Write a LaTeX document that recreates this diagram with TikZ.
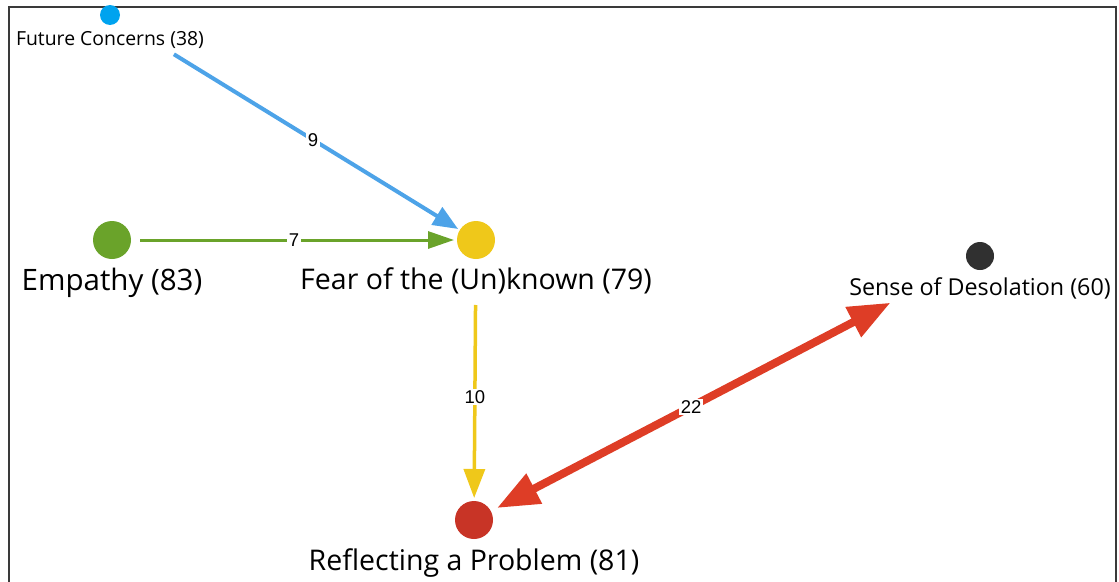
\documentclass[tikz,border=0pt]{standalone}
\usepackage{fontspec}
\setmainfont{Open Sans}
\newfontfamily\wtfont{Liberation Sans}
\usetikzlibrary{arrows.meta,positioning}

\definecolor{fcdot}{HTML}{00A3EF}
\definecolor{fcline}{HTML}{4DA3E8}
\definecolor{empgreen}{HTML}{6AA32A}
\definecolor{fearyellow}{HTML}{EFC81A}
\definecolor{refdot}{HTML}{C83426}
\definecolor{refline}{HTML}{DE3D26}
\definecolor{desdot}{HTML}{303030}
\definecolor{framegray}{HTML}{3A3A3A}

\begin{document}
\begin{tikzpicture}[x=1pt, y=-1pt,
	dot/.style={circle, fill=#1, inner sep=0pt, outer sep=0pt, minimum size=38pt},
	lbl/.style={inner sep=0pt, font=\fontsize{28.5}{32}\selectfont},
	wt/.style={fill=white, inner sep=1.5pt, font=\wtfont\fontsize{18.5}{21}\selectfont},
	edge/.style={draw=#1, line width=3pt}
]
\useasboundingbox (0,0) rectangle (1119,581);
\draw[framegray, line width=2pt] (9,590) -- (9,7) -- (1116,7) -- (1116,590);

% nodes
\node[dot=fcdot, minimum size=20pt] (fc) at (110,15) {};
\node[dot=empgreen] (emp) at (112,240) {};
\node[dot=fearyellow] (fear) at (476,240) {};
\node[dot=desdot, minimum size=28pt] (des) at (980,256) {};
\node[dot=refdot] (ref) at (474,520) {};

\node[lbl, font=\fontsize{19.4}{22}\selectfont, below=6.5pt of fc] (fclbl) {Future Concerns (38)};
\node[lbl, font=\fontsize{29.5}{33}\selectfont, below=9pt of emp] (emplbl) {Empathy (83)};
\node[lbl, below=8.5pt of fear] (fearlbl) {Fear of the (Un)known (79)};
\node[lbl, font=\fontsize{23.3}{26}\selectfont, below=7.5pt of des] (deslbl) {Sense of Desolation (60)};
\node[lbl, below=9.5pt of ref] (reflbl) {Reflecting a Problem (81)};

% edges
\draw[edge=fcline, line width=4pt, -{Triangle[length=25pt, width=20pt]}, shorten <=65pt, shorten >=2pt]
	(fc) -- node[wt, pos=0.57] {9} (fear);
\draw[edge=empgreen, -{Triangle[length=26pt, width=17pt]}, shorten <=9pt, shorten >=3pt]
	(emp) -- node[wt, pos=0.5] {7} (fear);
\draw[edge=fearyellow, line width=3.5pt, -{Triangle[length=29pt, width=21pt]}, shorten <=46pt, shorten >=3pt]
	(fear) -- node[wt, pos=0.57] {10} (ref);
\draw[edge=refline, line width=8pt, {Triangle[length=42pt, width=32pt]}-{Triangle[length=42pt, width=32pt]}, shorten <=7pt, shorten >=87pt]
	(ref) -- node[wt, pos=0.42] {22} (des);
\end{tikzpicture}
\end{document}
